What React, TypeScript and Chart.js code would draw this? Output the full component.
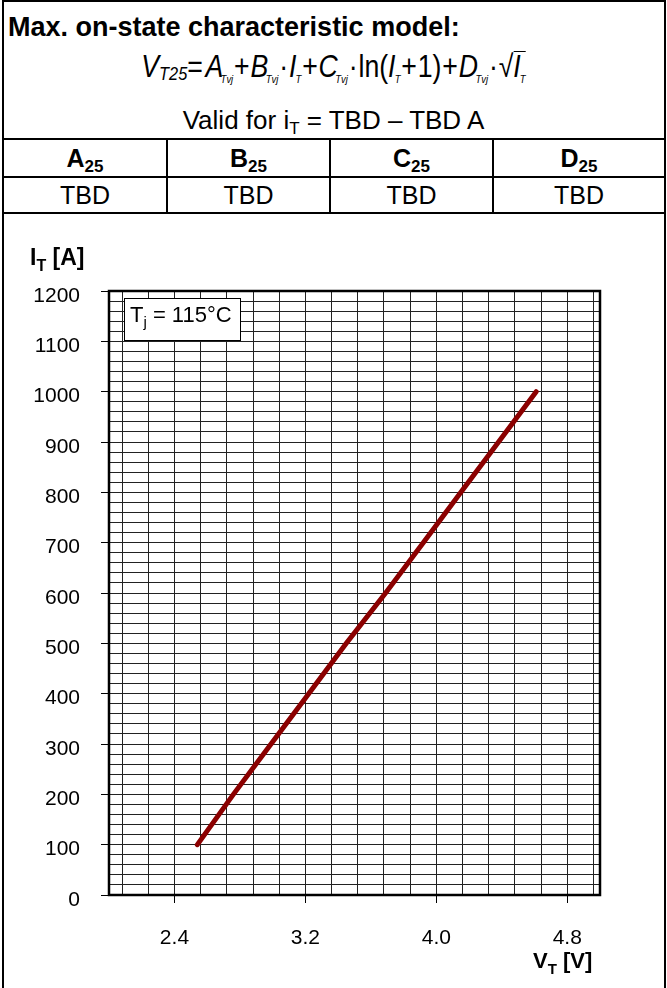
import React, { useEffect, useRef } from 'react';
import { Chart, registerables } from 'chart.js';

Chart.register(...registerables);

// ---- data ----
const V_T = [2.54, 2.76, 2.99, 3.22, 3.45, 3.69, 3.92, 4.15, 4.38, 4.61];
const I_T = [100, 200, 300, 400, 500, 600, 700, 800, 900, 1000];

const X_MIN = 2.0;
const X_MAX = 5.0;
const X_LABEL_TICKS = [2.4, 3.2, 4.0, 4.8];
const X_GRID = [2.08, 2.24, 2.4, 2.56, 2.72, 2.88, 3.04, 3.2, 3.36, 3.52, 3.68, 3.84, 4.0, 4.16, 4.32, 4.48, 4.64, 4.8, 4.96];

const Y_MIN = 0;
const Y_MAX = 1200;
const Y_LABEL_TICKS = [0, 100, 200, 300, 400, 500, 600, 700, 800, 900, 1000, 1100, 1200];
const Y_GRID_STEP = 20;
const Y_GRID = Array.from({ length: (Y_MAX - Y_MIN) / Y_GRID_STEP + 1 }, (_, i) => Y_MIN + i * Y_GRID_STEP);

const TABLE_HEADERS = ['A', 'B', 'C', 'D'];
const TABLE_SUB = '25';
const TABLE_VALUES = ['TBD', 'TBD', 'TBD', 'TBD'];

const TITLE = 'Max. on-state characteristic model:';
const LEGEND_MAIN = 'T';
const LEGEND_SUB = 'j';
const LEGEND_REST = ' = 115°C';

const FONT = '"Liberation Sans", Arial, Helvetica, sans-serif';

const near = (list: number[], v: number) => list.some((t) => Math.abs(t - v) < 1e-6);

const plotBorder = {
  id: 'plotBorder',
  beforeDatasetsDraw(chart: any) {
    const { ctx, chartArea: a } = chart;
    ctx.save();
    ctx.strokeStyle = '#000';
    ctx.lineWidth = 2.5;
    ctx.strokeRect(a.left, a.top, a.right - a.left, a.bottom - a.top);

    // legend box
    const bx = 124, by = 84, bw = 116, bh = 42;
    ctx.fillStyle = '#fff';
    ctx.fillRect(bx, by, bw, bh);
    ctx.lineWidth = 1;
    ctx.strokeStyle = '#000';
    ctx.strokeRect(bx + 0.5, by + 0.5, bw, bh);
    ctx.fillStyle = '#000';
    ctx.textBaseline = 'alphabetic';
    ctx.textAlign = 'left';
    let x = 130;
    const base = 108;
    ctx.font = `22px ${FONT}`;
    ctx.fillText(LEGEND_MAIN, x, base);
    x += ctx.measureText(LEGEND_MAIN).width;
    ctx.font = `15px ${FONT}`;
    ctx.fillText(LEGEND_SUB, x, base + 5);
    x += ctx.measureText(LEGEND_SUB).width;
    ctx.font = `22px ${FONT}`;
    ctx.fillText(LEGEND_REST, x, base);
    ctx.restore();
  },
  afterDraw(chart: any) {
    const { ctx } = chart;
    ctx.save();
    ctx.fillStyle = '#000';
    ctx.textBaseline = 'alphabetic';
    ctx.textAlign = 'left';
    // y title
    let x = 30;
    let base = 51;
    ctx.font = `bold 23px ${FONT}`;
    ctx.fillText('I', x, base);
    x += ctx.measureText('I').width;
    ctx.font = `bold 16px ${FONT}`;
    ctx.fillText('T', x, base + 6);
    x += ctx.measureText('T').width;
    ctx.font = `bold 23px ${FONT}`;
    ctx.fillText(' [A]', x, base);
    // x title
    x = 533;
    base = 754;
    ctx.font = `bold 22px ${FONT}`;
    ctx.fillText('V', x, base);
    x += ctx.measureText('V').width;
    ctx.font = `bold 15px ${FONT}`;
    ctx.fillText('T', x, base + 6);
    x += ctx.measureText('T').width;
    ctx.font = `bold 22px ${FONT}`;
    ctx.fillText(' [V]', x, base);
    ctx.restore();
  },
};

function ChartBox() {
  const ref = useRef<HTMLCanvasElement | null>(null);
  useEffect(() => {
    if (!ref.current) return;
    const chart = new Chart(ref.current, {
      type: 'scatter',
      data: {
        datasets: [
          {
            data: V_T.map((v, i) => ({ x: v, y: I_T[i] })),
            showLine: true,
            borderColor: '#8b0000',
            borderWidth: 5,
            borderCapStyle: 'round',
            pointRadius: 0,
            pointHoverRadius: 0,
            tension: 0,
          } as any,
        ],
      },
      options: {
        animation: false,
        responsive: true,
        maintainAspectRatio: false,
        events: [],
        layout: { padding: { left: 0, right: 67, top: 77, bottom: 0 } },
        plugins: { legend: { display: false }, tooltip: { enabled: false } },
        scales: {
          x: {
            type: 'linear',
            min: X_MIN,
            max: X_MAX,
            afterBuildTicks: (s: any) => {
              s.ticks = X_GRID.map((v) => ({ value: v }));
            },
            afterFit: (s: any) => {
              s.height = 93;
            },
            border: { display: false },
            grid: {
              color: '#222',
              lineWidth: 1,
              tickLength: 8,
              tickColor: (c: any) => (c.tick && near(X_LABEL_TICKS, c.tick.value) ? '#000' : 'rgba(0,0,0,0)'),
            },
            ticks: {
              autoSkip: false,
              maxRotation: 0,
              padding: 23,
              color: '#000',
              font: { family: FONT, size: 21 },
              callback: (v: any) => (near(X_LABEL_TICKS, Number(v)) ? Number(v).toFixed(1) : ''),
            },
          },
          y: {
            type: 'linear',
            min: Y_MIN,
            max: Y_MAX,
            afterBuildTicks: (s: any) => {
              s.ticks = Y_GRID.map((v) => ({ value: v }));
            },
            afterFit: (s: any) => {
              s.width = 109;
            },
            border: { display: false },
            grid: {
              color: '#222',
              lineWidth: 1,
              tickLength: 8,
              tickColor: (c: any) => (c.tick && near(Y_LABEL_TICKS, c.tick.value) ? '#000' : 'rgba(0,0,0,0)'),
            },
            ticks: {
              autoSkip: false,
              padding: 21,
              labelOffset: 5,
              color: '#000',
              font: { family: FONT, size: 21 },
              callback: (v: any) => (near(Y_LABEL_TICKS, Number(v)) ? String(Number(v)) : ''),
            },
          },
        },
      } as any,
      plugins: [plotBorder],
    });
    return () => chart.destroy();
  }, []);
  return (
    <div style={{ position: 'absolute', left: 0, top: 214, width: 667, height: 774 }}>
      <canvas ref={ref} />
    </div>
  );
}

const line = (left: number, top: number, width: number, height: number, key: string) => (
  <div key={key} style={{ position: 'absolute', left, top, width, height, background: '#000' }} />
);

const Sub = ({ children, size, top, italic = true, ml = 0, mr = 0 }: any) => (
  <span
    style={{
      fontSize: size,
      position: 'relative',
      top,
      fontStyle: italic ? 'italic' : 'normal',
      marginLeft: ml,
      marginRight: mr,
    }}
  >
    {children}
  </span>
);

const Op = ({ children }: any) => <span style={{ margin: '0 1px' }}>{children}</span>;

export default function App() {
  const cellX = [4, 168, 331, 494, 664];
  return (
    <div
      style={{
        position: 'absolute',
        left: 0,
        top: 0,
        width: 667,
        height: 988,
        overflow: 'hidden',
        background: '#fff',
        fontFamily: FONT,
        color: '#000',
      }}
    >
      {line(2, 0, 664, 2, 't')}
      {line(2, 0, 2, 988, 'l')}
      {line(664, 0, 2, 988, 'r')}
      {line(2, 138, 664, 2, 'h1')}
      {line(2, 176, 664, 2, 'h2')}
      {line(2, 212, 664, 2, 'h3')}
      {line(166, 138, 2, 76, 'v1')}
      {line(329, 138, 2, 76, 'v2')}
      {line(492, 138, 2, 76, 'v3')}

      <div style={{ position: 'absolute', left: 8, top: 11, fontSize: 27, fontWeight: 'bold', lineHeight: '32px', whiteSpace: 'nowrap' }}>
        {TITLE}
      </div>

      <div
        style={{
          position: 'absolute',
          left: 0,
          width: 667,
          top: 48,
          textAlign: 'center',
          fontSize: 31,
          lineHeight: '38px',
          whiteSpace: 'nowrap',
        }}
      >
        <span style={{ display: 'inline-block', transform: 'scaleX(0.86)', transformOrigin: '50% 50%' }}>
          <i>V</i>
          <Sub size={19} top={3}>T25</Sub>
          <span>=</span>
          <i style={{ marginLeft: 3 }}>A</i>
          <Sub size={11} top={6} ml={-3}>Tvj</Sub>
          <Op>+</Op>
          <i>B</i>
          <Sub size={11} top={6} ml={-3}>Tvj</Sub>
          <Op>·</Op>
          <i>I</i>
          <Sub size={11} top={6} ml={-1}>T</Sub>
          <Op>+</Op>
          <i>C</i>
          <Sub size={11} top={6} ml={-3}>Tvj</Sub>
          <Op>·</Op>
          <span>ln(</span>
          <i>I</i>
          <Sub size={11} top={6} ml={-1}>T</Sub>
          <Op>+</Op>
          <span>1)</span>
          <Op>+</Op>
          <i>D</i>
          <Sub size={11} top={6} ml={-3}>Tvj</Sub>
          <Op>·</Op>
          <span>√</span>
          <span style={{ borderTop: '1.5px solid #000', display: 'inline-block', lineHeight: '30px' }}>
            <i>I</i>
            <Sub size={11} top={6} ml={-1}>T</Sub>
          </span>
        </span>
      </div>

      <div style={{ position: 'absolute', left: 0, width: 667, top: 104, textAlign: 'center', fontSize: 26, lineHeight: '32px', whiteSpace: 'nowrap' }}>
        Valid for i<Sub size={17} top={5} italic={false}>T</Sub> = TBD – TBD A
      </div>

      {TABLE_HEADERS.map((h, i) => (
        <div
          key={'hd' + i}
          style={{
            position: 'absolute',
            left: cellX[i],
            width: cellX[i + 1] - cellX[i] - (i < 3 ? 2 : 0),
            top: 140,
            height: 36,
            display: 'flex',
            alignItems: 'center',
            justifyContent: 'center',
            fontSize: 25,
            fontWeight: 'bold',
          }}
        >
          <span>
            {h}
            <Sub size={17} top={5} italic={false}>{TABLE_SUB}</Sub>
          </span>
        </div>
      ))}
      {TABLE_VALUES.map((t, i) => (
        <div
          key={'vl' + i}
          style={{
            position: 'absolute',
            left: cellX[i],
            width: cellX[i + 1] - cellX[i] - (i < 3 ? 2 : 0),
            top: 178,
            height: 34,
            display: 'flex',
            alignItems: 'center',
            justifyContent: 'center',
            fontSize: 25,
          }}
        >
          {t}
        </div>
      ))}

      <ChartBox />
    </div>
  );
}
